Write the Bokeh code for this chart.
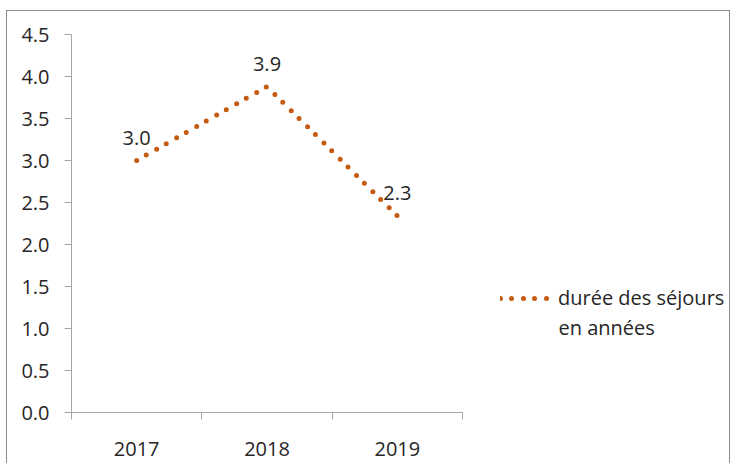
from bokeh.plotting import figure
from bokeh.layouts import row
from bokeh.models import (ColumnDataSource, FactorRange, Range1d, LinearAxis, CategoricalAxis,
                          FixedTicker, LabelSet, Legend, LegendItem, Label, NumeralTickFormatter)
from bokeh.core.properties import value
from bokeh.embed import file_html
from bokeh.resources import INLINE

# ---- data ----
years = ["2017", "2018", "2019"]
duree = [3.0, 3.88, 2.34]
y_ticks = [0.0, 0.5, 1.0, 1.5, 2.0, 2.5, 3.0, 3.5, 4.0, 4.5]
boundary_ticks = [0, 1, 2, 3]   # category boundaries (synthetic coordinates)
series_line1 = "durée des séjours"
series_line2 = "en années"

FONT = "Open Sans"
FS = "20px"
TEXT = "#262626"
ORANGE = "#C55A11"
AXIS = "#a6a6a6"
LINE_STYLE = dict(line_color=ORANGE, line_width=5, line_dash="0 11 0 12", line_cap="round")

src = ColumnDataSource(dict(year=years, val=duree, lab=[f"{v:.1f}" for v in duree]))

# ---------------- chart ----------------
p = figure(width=473, height=452,
           x_range=FactorRange(*years, range_padding=0), y_range=Range1d(0, 4.5),
           output_backend="svg", toolbar_location=None,
           x_axis_location=None, y_axis_location=None,
           min_border_left=64, min_border_right=18, min_border_top=23, min_border_bottom=51)
p.outline_line_color = None
p.grid.visible = False

yax = LinearAxis(ticker=FixedTicker(ticks=y_ticks), formatter=NumeralTickFormatter(format="0.0"))
yax.axis_line_color = AXIS
yax.major_tick_line_color = AXIS
yax.major_tick_out = 7
yax.major_tick_in = 0
yax.minor_tick_line_color = None
yax.major_label_standoff = 15
yax.major_label_text_font = FONT
yax.major_label_text_font_size = FS
yax.major_label_text_color = TEXT
p.add_layout(yax, "left")

tax = LinearAxis(ticker=FixedTicker(ticks=boundary_ticks))
tax.axis_line_color = AXIS
tax.major_tick_line_color = AXIS
tax.major_tick_out = 7
tax.major_tick_in = 0
tax.minor_tick_line_color = None
tax.major_label_text_font_size = "0px"
tax.major_label_standoff = 0
p.add_layout(tax, "below")

cax = CategoricalAxis()
cax.axis_line_color = None
cax.major_tick_line_color = None
cax.minor_tick_line_color = None
cax.major_label_standoff = 16
cax.major_label_text_font = FONT
cax.major_label_text_font_size = FS
cax.major_label_text_color = TEXT
p.add_layout(cax, "below")

p.line(x="year", y="val", source=src, **LINE_STYLE)

labels = LabelSet(x="year", y="val", text="lab", source=src, y_offset=23,
                  text_align="center", text_baseline="middle",
                  text_font=value(FONT), text_font_size=FS, text_color=TEXT)
p.add_layout(labels)

# ---------------- legend panel ----------------
# same series drawn on an off-screen y range, used only as the legend's glyph source
q = figure(width=249, height=452, x_range=FactorRange(*years, range_padding=0),
           y_range=Range1d(-20, -10),
           output_backend="svg", toolbar_location=None,
           x_axis_location=None, y_axis_location=None,
           min_border=0)
q.outline_line_color = None
q.grid.visible = False
lr = q.line(x="year", y="val", source=src, **LINE_STYLE)

legend = Legend(items=[LegendItem(label=series_line1, renderers=[lr])],
                location=(20, 101), padding=0, margin=0, spacing=0,
                border_line_color=None, background_fill_alpha=0,
                glyph_width=50, glyph_height=20, label_standoff=8, label_height=20,
                label_text_font=FONT, label_text_font_size=FS, label_text_color=TEXT)
q.add_layout(legend, "center")
q.add_layout(Label(x=78, y=85, x_units="screen", y_units="screen", text=series_line2,
                   text_baseline="middle", text_font=FONT, text_font_size=FS,
                   text_color=TEXT))

lay = row(p, q)
lay.styles = {"margin-left": "6px", "margin-top": "10px",
              "border-top": "1px solid #8c8c8c", "border-left": "1px solid #8c8c8c",
              "border-right": "1px solid #8c8c8c"}

open("out.html", "w").write(file_html(lay, INLINE))
